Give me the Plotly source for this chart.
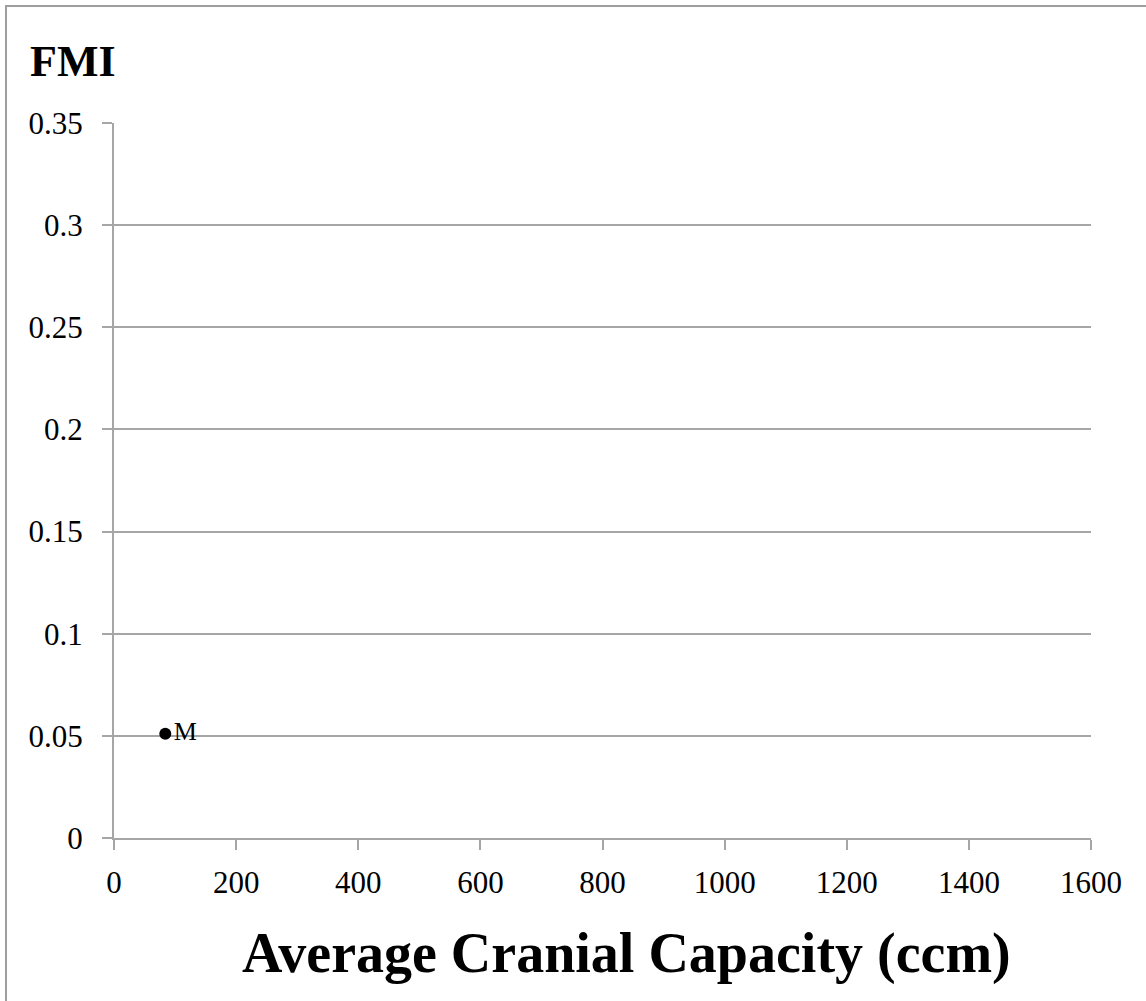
import plotly.graph_objects as go

# Data
labels = ["M"]
cranial_capacity = [84]
fmi = [0.051]

x_ticks = [0, 200, 400, 600, 800, 1000, 1200, 1400, 1600]
y_ticks = [0, 0.05, 0.1, 0.15, 0.2, 0.25, 0.3, 0.35]

W, H = 1146, 1001
L, R, T, B = 114, 55, 123, 163
pw, ph = W - L - R, H - T - B

def px(xp):
    return (xp - L) / pw

def py(yp):
    return (H - B - yp) / ph

FONT = "Liberation Serif"
GRID = "#a6a6a6"

fig = go.Figure()
fig.add_trace(go.Scatter(
    x=cranial_capacity, y=fmi, mode="markers+text",
    text=labels, textposition="middle right",
    textfont=dict(family=FONT, size=26, color="black"),
    marker=dict(color="black", size=12),
    showlegend=False, cliponaxis=False,
))

fig.update_layout(
    width=W, height=H,
    margin=dict(l=L, r=R, t=T, b=B),
    paper_bgcolor="white", plot_bgcolor="white",
    font=dict(family=FONT, size=31, color="black"),
    xaxis=dict(
        range=[0, 1600], tickvals=x_ticks, ticktext=[str(v) for v in x_ticks],
        showgrid=False, zeroline=False, showline=True, linecolor=GRID, linewidth=2,
        ticks="outside", ticklen=10, tickwidth=2, tickcolor=GRID,
        tickfont=dict(family=FONT, size=31), ticklabelstandoff=6, fixedrange=True,
    ),
    yaxis=dict(
        range=[0, 0.35], tickvals=y_ticks, ticktext=[f"{v:g}" for v in y_ticks],
        showgrid=True, gridcolor=GRID, gridwidth=2, zeroline=False,
        showline=True, linecolor=GRID, linewidth=2,
        ticks="outside", ticklen=10, tickwidth=2, tickcolor=GRID,
        tickfont=dict(family=FONT, size=31), ticklabelstandoff=13, fixedrange=True,
    ),
    shapes=[dict(
        type="rect", xref="paper", yref="paper",
        x0=px(6), x1=px(1160), y0=py(1015), y1=py(6),
        line=dict(color="#9e9e9e", width=2), fillcolor="rgba(0,0,0,0)", layer="below",
    )],
    annotations=[
        dict(text="<b>FMI</b>", xref="paper", yref="paper", x=px(73), y=py(62),
             xanchor="center", yanchor="middle", showarrow=False,
             font=dict(family=FONT, size=44, color="black")),
        dict(text="<b>Average Cranial Capacity (ccm)</b>", xref="paper", yref="paper",
             x=px(626), y=py(953), xanchor="center", yanchor="middle", showarrow=False,
             font=dict(family=FONT, size=56, color="black")),
    ],
)

fig.write_html("out.html", config={"displayModeBar": False},
               post_script="document.body.style.margin='0';")
